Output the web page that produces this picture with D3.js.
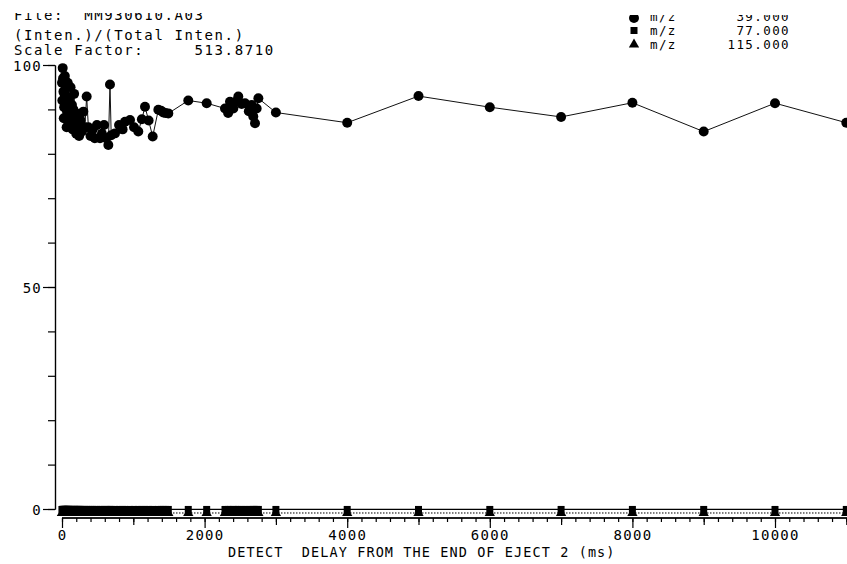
<!DOCTYPE html>
<html>
<head>
<meta charset="utf-8">
<script src="https://cdn.jsdelivr.net/npm/d3@7"></script>
<style>
  html, body { margin: 0; padding: 0; background: #fff; overflow: hidden; }
  svg { display: block; }
  text { font-family: "DejaVu Sans Mono", monospace; fill: #000; white-space: pre; }
</style>
</head>
<body>
<svg id="chart" width="847" height="564"></svg>
<script>
// Detect delay (ms) after the end of eject 2
const delays = [
  0, 5, 10, 15, 20, 25, 30, 35, 40, 45, 50, 55, 60, 65, 70, 75, 80, 85, 90, 95, 100,
  110, 120, 130, 140, 150, 160, 170, 180, 190, 200,
  210, 220, 230, 240, 250, 260, 280, 300, 320,
  346, 370, 400, 430, 460, 490,
  533, 560, 590, 620, 650, 673, 690,
  743, 800, 850, 884, 954, 1010, 1070,
  1120, 1164, 1215, 1272, 1351, 1390, 1420, 1450, 1491,
  1771, 2029,
  2286, 2330, 2356, 2403, 2440, 2473, 2520, 2567, 2620, 2661, 2683, 2707, 2730, 2754,
  3000, 4000, 5000, 6000, 7000, 8000, 9000, 10000, 11000
];

// (Inten.)/(Total Inten.) for each ion
const mz39 = [
  96, 92, 99.3, 97, 94, 88, 90.5, 93.5, 97.5, 91, 88, 95, 93, 86, 89.5, 92, 96, 89, 86.5, 91, 92.5,
  88.5, 95, 87, 91, 85.5, 90, 93.5, 86, 89, 84.5,
  87, 88, 85.5, 84, 89, 87.5, 85, 89.5, 86,
  92.9, 86, 84, 85.5, 83.5, 86.5,
  83.5, 84.5, 86.5, 83.5, 82, 95.6, 84.2,
  84.6, 86.5, 85.5, 87.2, 87.6, 86, 85,
  87.8, 90.6, 87.5, 83.9, 89.9, 89.7, 89.3, 89.2, 89.1,
  92, 91.4,
  90.2, 89.2, 91.7, 90.2, 91.8, 92.9, 91.2, 91.4, 89.6, 91, 88.4, 86.9, 90.2, 92.5,
  89.3, 87, 93, 90.5, 88.3, 91.5, 85, 91.4, 87
];

const mz77 = [
  -0.1, -0.1, -0.1, -0.1, -0.1, -0.1, -0.1, -0.1, -0.1, -0.1, -0.1, -0.1, -0.1, -0.1, -0.1, -0.1, -0.1, -0.1, -0.1, -0.1, -0.1,
  -0.1, -0.1, -0.1, -0.1, -0.1, -0.1, -0.1, -0.1, -0.1, -0.1,
  -0.1, -0.1, -0.1, -0.1, -0.1, -0.1, -0.1, -0.1, -0.1,
  -0.1, -0.1, -0.1, -0.1, -0.1, -0.1,
  -0.1, -0.1, -0.1, -0.1, -0.1, -0.1, -0.1,
  -0.1, -0.1, -0.1, -0.1, -0.1, -0.1, -0.1,
  -0.1, -0.1, -0.1, -0.1, -0.1, -0.1, -0.1, -0.1, -0.1,
  -0.1, -0.1,
  -0.1, -0.1, -0.1, -0.1, -0.1, -0.1, -0.1, -0.1, -0.1, -0.1, -0.1, -0.1, -0.1, -0.1,
  -0.1, -0.1, -0.1, -0.1, -0.1, -0.1, -0.1, -0.1, -0.1
];

const mz115 = [
  -0.9, -0.9, -0.9, -0.9, -0.9, -0.9, -0.9, -0.9, -0.9, -0.9, -0.9, -0.9, -0.9, -0.9, -0.9, -0.9, -0.9, -0.9, -0.9, -0.9, -0.9,
  -0.9, -0.9, -0.9, -0.9, -0.9, -0.9, -0.9, -0.9, -0.9, -0.9,
  -0.9, -0.9, -0.9, -0.9, -0.9, -0.9, -0.9, -0.9, -0.9,
  -0.9, -0.9, -0.9, -0.9, -0.9, -0.9,
  -0.9, -0.9, -0.9, -0.9, -0.9, -0.9, -0.9,
  -0.9, -0.9, -0.9, -0.9, -0.9, -0.9, -0.9,
  -0.9, -0.9, -0.9, -0.9, -0.9, -0.9, -0.9, -0.9, -0.9,
  -0.9, -0.9,
  -0.9, -0.9, -0.9, -0.9, -0.9, -0.9, -0.9, -0.9, -0.9, -0.9, -0.9, -0.9, -0.9, -0.9,
  -0.9, -0.9, -0.9, -0.9, -0.9, -0.9, -0.9, -0.9, -0.9
];

const xTickLabels = [0, 2000, 4000, 6000, 8000, 10000];
const yTickLabels = [0, 50, 100];
const legendIons = ["39.000", "77.000", "115.000"];
const headerLines = ["File:  MM930610.A03", "(Inten.)/(Total Inten.)", "Scale Factor:     513.8710"];
const xTitle = "DETECT  DELAY FROM THE END OF EJECT 2 (ms)";

const svg = d3.select("#chart");

const x = d3.scaleLinear().domain([0, 11000]).range([62, 846.3]);
const y = d3.scaleLinear().domain([0, 100]).range([509, 65]);

// ---------- axes ----------
const yAxisG = svg.append("g").attr("transform", "translate(55,0)");
yAxisG.call(d3.axisLeft(y).tickValues(d3.range(0, 101, 10)).tickSize(7).tickSizeOuter(0).tickFormat(""));
yAxisG.append("g").call(d3.axisLeft(y).tickValues(yTickLabels).tickSize(12).tickSizeOuter(0).tickPadding(1)
  .tickFormat(d3.format("d")));
yAxisG.selectAll("path, line").attr("stroke", "#000").attr("stroke-width", 1.2);
yAxisG.selectAll("text").attr("font-size", 14).attr("letter-spacing", 1.2)
  .attr("font-family", "DejaVu Sans Mono").attr("dy", "0.36em");

const xAxisG = svg.append("g").attr("transform", "translate(0,518)");
xAxisG.call(d3.axisBottom(x).tickValues(d3.range(0, 11001, 200)).tickSize(4).tickSizeOuter(0).tickFormat(""));
xAxisG.append("g").call(d3.axisBottom(x).tickValues(d3.range(1000, 11001, 2000)).tickSize(7).tickSizeOuter(0).tickFormat(""));
xAxisG.append("g").call(d3.axisBottom(x).tickValues(xTickLabels).tickSize(10).tickSizeOuter(0).tickPadding(2)
  .tickFormat(d3.format("d")));
xAxisG.selectAll("path.domain").attr("d", `M${x(0)},0H847`);
xAxisG.selectAll("path, line").attr("stroke", "#000").attr("stroke-width", 1.2);
xAxisG.selectAll("text").attr("font-size", 14).attr("letter-spacing", 1.3)
  .attr("font-family", "DejaVu Sans Mono");

svg.append("text").attr("x", 228).attr("y", 557).attr("font-size", 13.5)
  .attr("letter-spacing", 1.1).text(xTitle);

// ---------- series ----------
const rows = delays.map((t, i) => ({ t, a: mz39[i], b: mz77[i], c: mz115[i] }));

const line = key => d3.line().x(d => x(d.t)).y(d => y(d[key]));

svg.append("path").datum(rows).attr("d", line("c"))
  .attr("fill", "none").attr("stroke", "#000").attr("stroke-width", 1).attr("stroke-dasharray", "1.5,1.5");
svg.append("path").datum(rows).attr("d", line("b"))
  .attr("fill", "none").attr("stroke", "#000").attr("stroke-width", 1.2);
svg.append("path").datum(rows).attr("d", line("a"))
  .attr("fill", "none").attr("stroke", "#111").attr("stroke-width", 1);

const tri = d3.symbol().type(d3.symbolTriangle).size(46);
const sq = d3.symbol().type(d3.symbolSquare).size(49);
const circ = d3.symbol().type(d3.symbolCircle).size(78);

svg.append("g").selectAll("path").data(rows).join("path")
  .attr("transform", d => `translate(${x(d.t)},${y(d.c)})`).attr("d", tri).attr("fill", "#000");
svg.append("g").selectAll("path").data(rows).join("path")
  .attr("transform", d => `translate(${x(d.t)},${y(d.b)})`).attr("d", sq).attr("fill", "#000");
svg.append("g").selectAll("path").data(rows).join("path")
  .attr("transform", d => `translate(${x(d.t)},${y(d.a)})`).attr("d", circ).attr("fill", "#000");

// ---------- header ----------
const defs = svg.append("defs");
defs.append("clipPath").attr("id", "clipTopLeft").append("rect")
  .attr("x", 0).attr("y", 13).attr("width", 400).attr("height", 60);
defs.append("clipPath").attr("id", "clipTopRight").append("rect")
  .attr("x", 600).attr("y", 15).attr("width", 247).attr("height", 60);

const headerBase = [19.5, 40, 55];
const header = svg.append("g").attr("clip-path", "url(#clipTopLeft)");
header.selectAll("text").data(headerLines).join("text")
  .attr("x", 14).attr("y", (d, i) => headerBase[i])
  .attr("font-size", 14).attr("letter-spacing", 1.6).text(d => d);

// ---------- legend ----------
const legendBase = [20.5, 34.5, 48.5];
const legendSym = [circ, sq, tri];
const legend = svg.append("g").attr("clip-path", "url(#clipTopRight)");
legendIons.forEach((ion, i) => {
  legend.append("path").attr("d", legendSym[i])
    .attr("transform", `translate(634,${legendBase[i] - (i === 0 ? 2.5 : 4)})`).attr("fill", "#000");
  legend.append("text").attr("x", 650).attr("y", legendBase[i])
    .attr("font-size", 12.5).attr("letter-spacing", 1.4).text("m/z");
  legend.append("text").attr("x", 790).attr("y", legendBase[i]).attr("text-anchor", "end")
    .attr("font-size", 12.5).attr("letter-spacing", 1.4).text(ion);
});
</script>
</body>
</html>
